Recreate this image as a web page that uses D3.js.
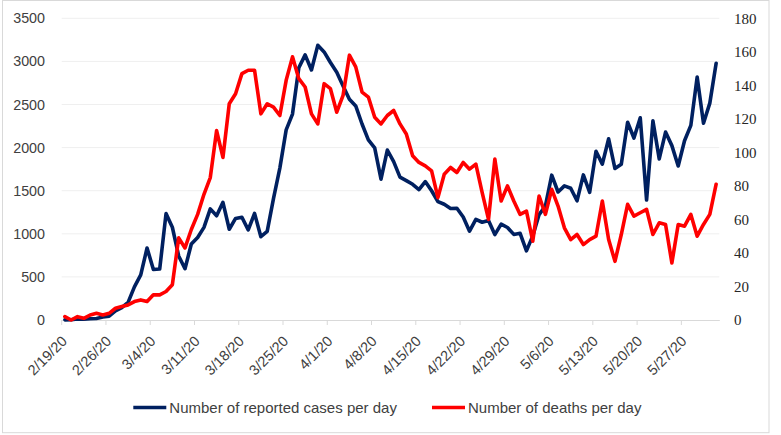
<!DOCTYPE html>
<html><head><meta charset="utf-8">
<script src="https://cdn.jsdelivr.net/npm/d3@7"></script>
<style>html,body{margin:0;padding:0;background:#fff}svg{display:block}</style>
</head><body>
<svg id="c" width="781" height="435"></svg>
<script>
const dates = [
"2/19/20","2/20/20","2/21/20","2/22/20","2/23/20","2/24/20","2/25/20","2/26/20","2/27/20","2/28/20","2/29/20",
"3/1/20","3/2/20","3/3/20","3/4/20","3/5/20","3/6/20","3/7/20","3/8/20","3/9/20","3/10/20",
"3/11/20","3/12/20","3/13/20","3/14/20","3/15/20","3/16/20","3/17/20","3/18/20","3/19/20","3/20/20",
"3/21/20","3/22/20","3/23/20","3/24/20","3/25/20","3/26/20","3/27/20","3/28/20","3/29/20","3/30/20","3/31/20",
"4/1/20","4/2/20","4/3/20","4/4/20","4/5/20","4/6/20","4/7/20","4/8/20","4/9/20","4/10/20",
"4/11/20","4/12/20","4/13/20","4/14/20","4/15/20","4/16/20","4/17/20","4/18/20","4/19/20","4/20/20",
"4/21/20","4/22/20","4/23/20","4/24/20","4/25/20","4/26/20","4/27/20","4/28/20","4/29/20","4/30/20",
"5/1/20","5/2/20","5/3/20","5/4/20","5/5/20","5/6/20","5/7/20","5/8/20","5/9/20","5/10/20",
"5/11/20","5/12/20","5/13/20","5/14/20","5/15/20","5/16/20","5/17/20","5/18/20","5/19/20","5/20/20",
"5/21/20","5/22/20","5/23/20","5/24/20","5/25/20","5/26/20","5/27/20","5/28/20","5/29/20","5/30/20","5/31/20",
"6/1/20"];
const cases = [2,3,13,10,15,18,34,44,106,143,
205,385,523,835,586,591,1234,1076,743,595,
881,958,1075,1289,1209,1365,1053,1178,1192,1046,
1237,966,1028,1411,1762,2206,2389,2926,3076,2901,
3186,3110,2987,2875,2715,2560,2483,2274,2089,1997,
1634,1972,1837,1657,1617,1574,1512,1606,1499,1374,
1343,1294,1297,1194,1030,1168,1134,1153,991,1112,
1073,993,1006,802,976,1223,1323,1680,1485,1556,
1529,1383,1683,1481,1958,1808,2102,1757,1806,2294,
2111,2346,1392,2311,1869,2180,2023,1787,2080,2258,
2819,2282,2516,2979];
const deaths = [2,0,2,1,3,4,3,4,7,8,
9,11,12,11,15,15,17,21,49,43,
54,63,75,85,113,97,129,135,147,149,
149,123,129,127,122,143,157,144,139,123,
117,141,138,124,134,158,151,136,133,121,
117,122,125,117,111,98,94,92,89,73,
87,91,88,94,90,93,76,60,96,71,
80,71,63,65,47,74,63,78,68,55,
48,51,45,48,50,71,48,35,51,69,
62,64,66,51,58,57,34,57,56,63,
50,57,63,81];
const tickLabels = ["2/19/20","2/26/20","3/4/20","3/11/20","3/18/20","3/25/20","4/1/20","4/8/20","4/15/20","4/22/20","4/29/20","5/6/20","5/13/20","5/20/20","5/27/20"];
const leftTicks = [0,500,1000,1500,2000,2500,3000,3500];
const rightTicks = [0,20,40,60,80,100,120,140,160,180];
const seriesNames = ["Number of reported cases per day","Number of deaths per day"];
const colors = ["#002060","#FF0000"];

const svg = d3.select("#c");
svg.append("rect").attr("x",2.5).attr("y",0.5).attr("width",766.5).attr("height",432.2)
  .attr("fill","#fff").attr("stroke","#d9d9d9").attr("stroke-width",1);

const x0 = 61.7, x1 = 719.3, yBot = 320, yTop = 18.3;
const x = d3.scaleBand().domain(dates).range([x0, x1]).padding(0);
const bw = x.bandwidth();
const yL = d3.scaleLinear().domain([0,3500]).range([yBot, yTop]);
const yR = d3.scaleLinear().domain([0,180]).range([yBot, yTop]);

// gridlines
svg.append("g").selectAll("line").data(leftTicks.slice(1)).join("line")
  .attr("x1", x0).attr("x2", x1)
  .attr("y1", d => yL(d)).attr("y2", d => yL(d))
  .attr("stroke", "#efefef").attr("stroke-width", 1);

// left axis
const gl = svg.append("g").attr("transform", `translate(${x0},0)`)
  .call(d3.axisLeft(yL).tickValues(leftTicks).tickSize(0).tickPadding(16.7).tickFormat(d3.format("d")));
gl.select(".domain").remove();
gl.selectAll("text").attr("font-family","'Liberation Sans', Arial, sans-serif").attr("font-size","14.3px").attr("fill","#404040");

// right axis
const gr = svg.append("g").attr("transform", `translate(${x1},0)`)
  .call(d3.axisRight(yR).tickValues(rightTicks).tickSize(0).tickPadding(14.7).tickFormat(d3.format("d")));
gr.select(".domain").remove();
gr.selectAll("text").attr("font-family","'Liberation Serif', 'Times New Roman', serif").attr("font-size","15px").attr("fill","#262626");

// bottom axis
const gb = svg.append("g").attr("transform", `translate(0,${yBot})`)
  .call(d3.axisBottom(x).tickValues(tickLabels).tickSizeInner(5).tickSizeOuter(0));
gb.select(".domain").attr("stroke","#d9d9d9");
gb.selectAll(".tick line").attr("x1", -bw/2).attr("x2", -bw/2).attr("stroke","#d9d9d9");
gb.selectAll(".tick text")
  .attr("x",0).attr("y",0).attr("dy",null)
  .attr("transform","translate(3,22) rotate(-45)")
  .attr("text-anchor","end")
  .attr("font-family","'Liberation Sans', Arial, sans-serif").attr("font-size","14.5px").attr("fill","#404040");

// lines
const lineL = d3.line().x((d,i) => x(dates[i]) + bw/2).y(d => yL(d));
const lineR = d3.line().x((d,i) => x(dates[i]) + bw/2).y(d => yR(d));
svg.append("path").datum(cases).attr("d", lineL).attr("fill","none")
  .attr("stroke", colors[0]).attr("stroke-width", 3.6).attr("stroke-linejoin","round").attr("stroke-linecap","round");
svg.append("path").datum(deaths).attr("d", lineR).attr("fill","none")
  .attr("stroke", colors[1]).attr("stroke-width", 3.6).attr("stroke-linejoin","round").attr("stroke-linecap","round");

// legend
const legendItems = [{x: 133.3, name: seriesNames[0], c: colors[0]}, {x: 432, name: seriesNames[1], c: colors[1]}];
const lg = svg.append("g");
legendItems.forEach(it => {
  lg.append("line").attr("x1", it.x).attr("x2", it.x + 33).attr("y1", 407.5).attr("y2", 407.5)
    .attr("stroke", it.c).attr("stroke-width", 3.6);
  lg.append("text").attr("x", it.x + 36).attr("y", 413).text(it.name)
    .attr("font-family","'Liberation Sans', Arial, sans-serif").attr("font-size","15px").attr("fill","#404040");
});
</script>
</body></html>
